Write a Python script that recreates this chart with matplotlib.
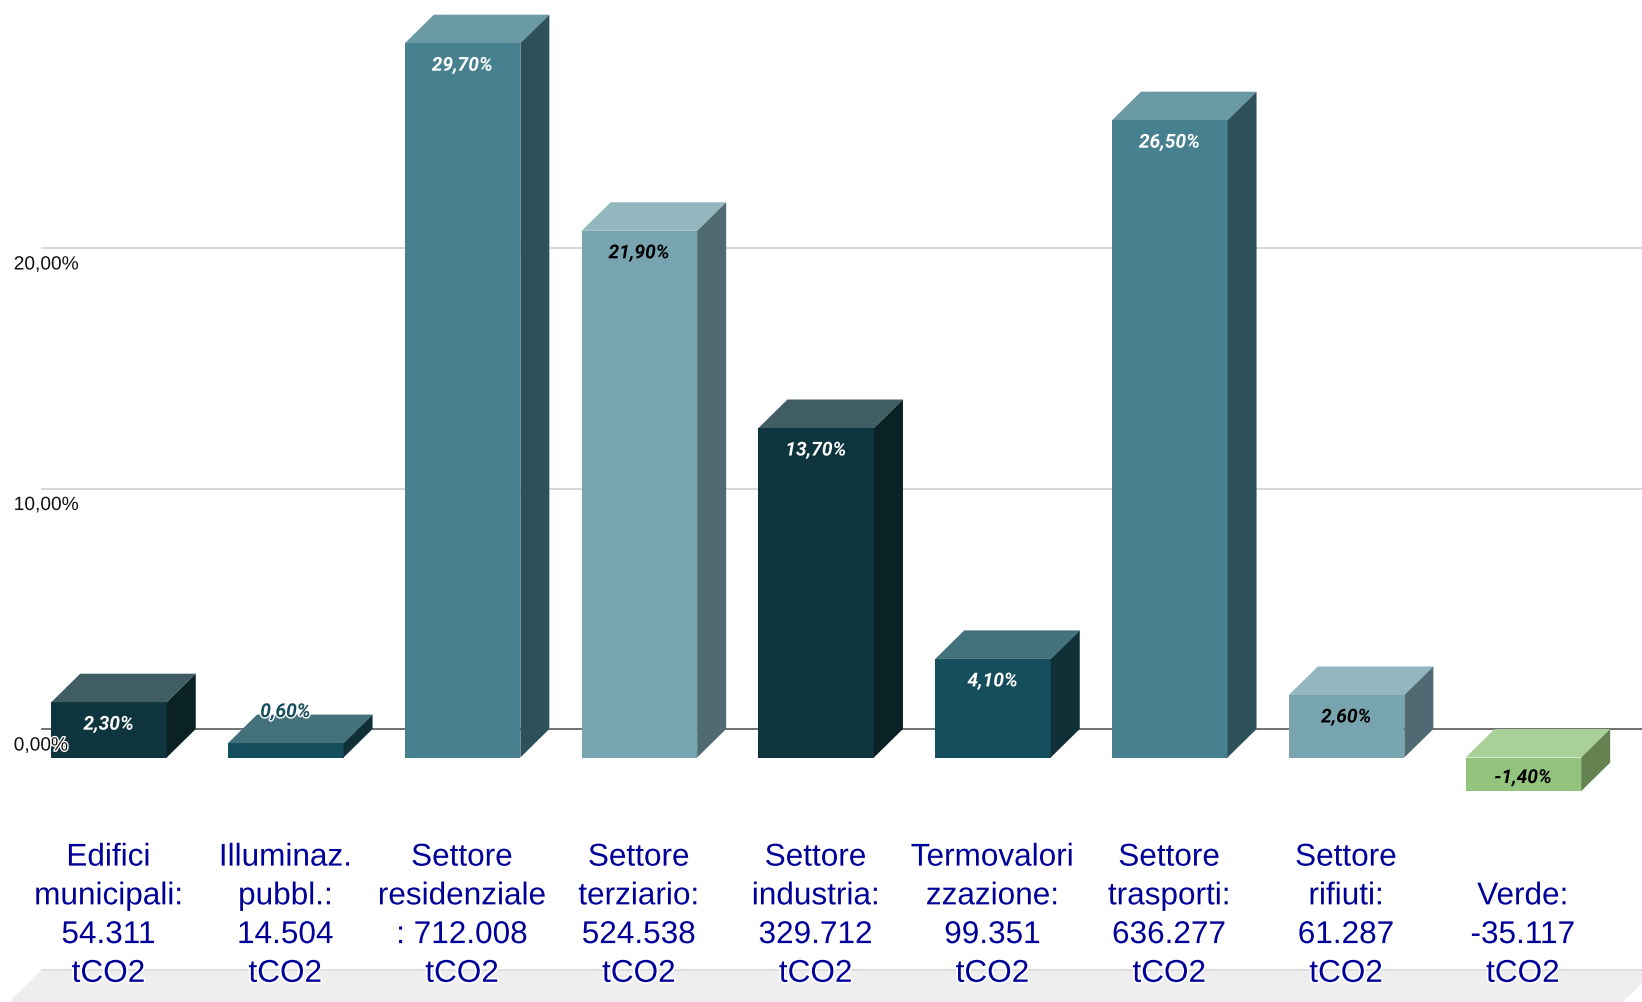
# Library imports
import matplotlib
matplotlib.use('Agg')
import matplotlib.pyplot as plt
import matplotlib.patheffects as pe

# Values
categories = [
    'Edifici\nmunicipali:\n54.311\ntCO2',
    'Illuminaz.\npubbl.:\n14.504\ntCO2',
    'Settore\nresidenziale\n: 712.008\ntCO2',
    'Settore\nterziario:\n524.538\ntCO2',
    'Settore\nindustria:\n329.712\ntCO2',
    'Termovalori\nzzazione:\n99.351\ntCO2',
    'Settore\ntrasporti:\n636.277\ntCO2',
    'Settore\nrifiuti:\n61.287\ntCO2',
    'Verde:\n-35.117\ntCO2',
]
values = [2.3, 0.6, 29.7, 21.9, 13.7, 4.1, 26.5, 2.6, -1.4]
value_labels = ['2,30%', '0,60%', '29,70%', '21,90%', '13,70%', '4,10%', '26,50%', '2,60%', '-1,40%']
grid_values = [10, 20]
tick_labels = ['0,00%', '10,00%', '20,00%']
tick_values = [0, 10, 20]
axis_min = -10

front_colors = ['#0e343d', '#154e5c', '#47808f', '#78a4b0', '#0e343d', '#154e5c', '#47808f', '#78a4b0', '#93c47d']
top_colors = ['#3f5d63', '#43717c', '#6b9aa7', '#93b7be', '#3f5d63', '#43717c', '#6b9aa7', '#93b7be', '#a9d096']
side_colors = ['#0a2226', '#0f3037', '#2c5159', '#4f6a72', '#0a2226', '#0f3037', '#2c5159', '#4f6a72', '#648350']
label_colors = ['white', '#154e5c', 'white', 'black', 'white', 'white', 'white', 'black', 'black']

# Pixel layout of the picture
WIDTH, HEIGHT = 1642, 1002
PITCH = 176.8
FIRST_CENTER = 109
ZERO_PX = 757.5
PX_PER_UNIT = 24.05
BAR_W = 115.5 / PITCH
DX = 29 / PITCH
DY = 28.5 / PX_PER_UNIT

fig = plt.figure(figsize=(WIDTH / 100, HEIGHT / 100), dpi=100)
ax = fig.add_axes([0, 0, 1, 1])
ax.set_xlim(-FIRST_CENTER / PITCH, (WIDTH - FIRST_CENTER) / PITCH)
ax.set_ylim((ZERO_PX - HEIGHT) / PX_PER_UNIT, ZERO_PX / PX_PER_UNIT)
ax.axis('off')

# Left end of the back wall and right end of the floor
wall_x = (42 - FIRST_CENTER) / PITCH
wall_end = (1656 - FIRST_CENTER) / PITCH

# Floor, runs off the bottom of the picture
floor_back = axis_min + DY
floor_front = ax.get_ylim()[0]
floor_shift = DX * (floor_back - floor_front) / DY
ax.fill([wall_x, wall_end, wall_end - floor_shift, wall_x - floor_shift],
        [floor_back, floor_back, floor_front, floor_front],
        color='#eeeeee', lw=0, zorder=1)
ax.plot([wall_x, wall_end], [floor_back, floor_back], color='#dcdcdc', lw=1.2, zorder=1)

# Gridlines sit on the back wall
for g in grid_values:
    ax.plot([wall_x, wall_end], [g + DY, g + DY], color='#cccccc', lw=1.1, zorder=1)
ax.plot([wall_x, wall_end], [DY, DY], color='#666666', lw=1.3, zorder=1)

# Bars
for i, v in enumerate(values):
    left = i - BAR_W / 2
    right = i + BAR_W / 2
    high = max(v, 0)
    low = min(v, 0)
    ax.bar(i, v, width=BAR_W, color=front_colors[i], lw=0, zorder=3)
    ax.fill([left, right, right + DX, left + DX], [high, high, high + DY, high + DY],
            color=top_colors[i], lw=0, zorder=3)
    ax.fill([right, right + DX, right + DX, right], [low, low + DY, high + DY, high],
            color=side_colors[i], lw=0, zorder=3)

    # Value labels, the smallest bar has its label above the box
    if abs(v) < 1:
        offset = 31
    elif v < 0:
        offset = -20.5
    else:
        offset = -22.5
    halo = 'white' if abs(v) < 1 else front_colors[i]
    ax.annotate(value_labels[i], (i - 0.003, high), xytext=(0, offset * 0.72), textcoords='offset points',
                ha='center', va='center', fontsize=13.8, family='Roboto', weight='bold', style='italic',
                color=label_colors[i], zorder=5,
                path_effects=[pe.withStroke(linewidth=2, foreground=halo)])

    # Category labels, bottom aligned
    ax.annotate(categories[i], (i - 0.003, axis_min), xytext=(0, -(980 - 997.5) * 0.72 - 6), textcoords='offset points',
                ha='center', va='bottom', fontsize=22.7, family='Liberation Sans', linespacing=1.38,
                color='#000099', zorder=6,
                path_effects=[pe.withStroke(linewidth=2.5, foreground='white')])

# Axis labels sit a bit under their gridlines
for t, lab in zip(tick_values, tick_labels):
    ax.annotate(lab, (wall_x - DX, t + DY), xytext=(0.5, -17 * 0.72), textcoords='offset points',
                ha='left', va='center', fontsize=13.8, family='Liberation Sans', color='#111111', zorder=4,
                path_effects=[pe.withStroke(linewidth=2, foreground='white')])

fig.savefig('out.png', dpi=100)
